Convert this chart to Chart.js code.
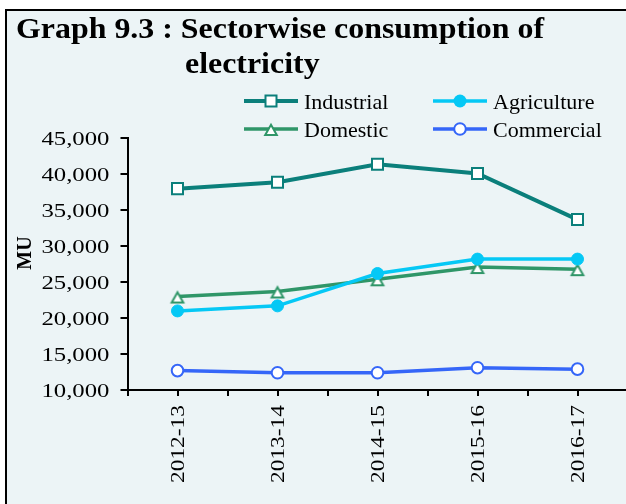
<!DOCTYPE html>
<html><head><meta charset="utf-8">
<script src="https://cdn.jsdelivr.net/npm/chart.js@4"></script>
<style>html,body{margin:0;padding:0;overflow:hidden;background:#fff}#wrap{width:640px;height:504px}</style>
</head><body><div id="wrap"><canvas id="c" width="640" height="504"></canvas></div>
<script>
const categories = ['2012-13', '2013-14', '2014-15', '2015-16', '2016-17'];
const industrial = [38000, 38900, 41400, 40100, 33700];
const agriculture = [21000, 21700, 26200, 28200, 28200];
const domestic = [23000, 23700, 25400, 27100, 26800];
const commercial = [12700, 12400, 12400, 13100, 12900];
const yTickValues = [10000, 15000, 20000, 25000, 30000, 35000, 40000, 45000];
const yTickLabels = ['10,000', '15,000', '20,000', '25,000', '30,000', '35,000', '40,000', '45,000'];
const seriesNames = ['Industrial', 'Agriculture', 'Domestic', 'Commercial'];
const titleLines = ['Graph 9.3 : Sectorwise consumption of', 'electricity'];
const yAxisTitle = 'MU';

const C_IND = '#0B7F7B', C_AGR = '#05C8F5', C_DOM = '#2F9668', C_COM = '#3566F8';
const BG = '#ECF4F6';

function makeTriangle(color) {
  const c = document.createElement('canvas');
  c.width = 18; c.height = 22;
  const g = c.getContext('2d');
  g.beginPath(); g.moveTo(9, 6.8); g.lineTo(14.8, 17); g.lineTo(3.2, 17); g.closePath();
  g.fillStyle = '#fff'; g.fill();
  g.lineWidth = 2; g.strokeStyle = color; g.stroke();
  return c;
}
const triImg = makeTriangle(C_DOM);

function drawMarker(ctx, kind, x, y, color) {
  ctx.save();
  ctx.lineWidth = 2;
  ctx.strokeStyle = color;
  if (kind === 'rect') {
    ctx.fillStyle = '#fff';
    ctx.fillRect(x - 5.5, y - 5.5, 11, 11);
    ctx.strokeRect(x - 5.5, y - 5.5, 11, 11);
  } else if (kind === 'dot') {
    ctx.fillStyle = color;
    ctx.beginPath(); ctx.arc(x, y, 6.5, 0, Math.PI * 2); ctx.fill();
  } else if (kind === 'ring') {
    ctx.fillStyle = '#fff';
    ctx.beginPath(); ctx.arc(x, y, 5.8, 0, Math.PI * 2); ctx.fill(); ctx.stroke();
  } else if (kind === 'tri') {
    ctx.drawImage(triImg, x - 9, y - 11);
  }
  ctx.restore();
}

const decor = {
  id: 'decor',
  beforeDraw(chart) {
    const ctx = chart.ctx, W = chart.width, H = chart.height;
    ctx.save();
    ctx.fillStyle = '#fff'; ctx.fillRect(0, 0, W, H);
    ctx.fillStyle = BG; ctx.fillRect(6, 10, W - 6, H - 10);
    ctx.strokeStyle = '#000'; ctx.lineWidth = 2;
    ctx.beginPath(); ctx.moveTo(6, 9); ctx.lineTo(6, H); ctx.stroke();
    ctx.beginPath(); ctx.moveTo(5, 10); ctx.lineTo(W, 10); ctx.stroke();
    ctx.restore();
  },
  afterDraw(chart) {
    const ctx = chart.ctx;
    const xs = chart.scales.x, ys = chart.scales.y;
    ctx.save();
    ctx.fillStyle = '#000';
    // Title
    ctx.font = 'bold 29px "Liberation Serif"';
    ctx.textAlign = 'left'; ctx.textBaseline = 'alphabetic';
    ctx.save(); ctx.translate(16, 37.5); ctx.scale(1.1, 1); ctx.fillText(titleLines[0], 0, 0); ctx.restore();
    ctx.save(); ctx.translate(185, 72.5); ctx.scale(1.1, 1); ctx.fillText(titleLines[1], 0, 0); ctx.restore();
    // Legend
    const items = [
      {i: 0, x: 244, y: 101, c: C_IND, k: 'rect', w: 4},
      {i: 1, x: 433, y: 101, c: C_AGR, k: 'dot', w: 3.5},
      {i: 2, x: 244, y: 129, c: C_DOM, k: 'tri', w: 3.5},
      {i: 3, x: 433, y: 129, c: C_COM, k: 'ring', w: 3.5}
    ];
    ctx.font = '22px "Liberation Serif"';
    items.forEach(it => {
      ctx.save();
      ctx.strokeStyle = it.c; ctx.lineWidth = it.w;
      ctx.beginPath(); ctx.moveTo(it.x, it.y); ctx.lineTo(it.x + 54, it.y); ctx.stroke();
      ctx.restore();
      drawMarker(ctx, it.k, it.x + 27, it.y, it.c);
      ctx.fillStyle = '#000';
      ctx.fillText(seriesNames[it.i], it.x + 60, it.y + 7.5);
    });
    // Y tick labels
    ctx.font = '19.5px "Liberation Serif"';
    ctx.textAlign = 'right';
    ys.ticks.forEach(t => {
      const idx = yTickValues.indexOf(t.value);
      if (idx < 0) return;
      const y = ys.getPixelForValue(t.value);
      ctx.save(); ctx.translate(109.5, y + 6.5); ctx.scale(1.27, 1);
      ctx.fillText(yTickLabels[idx], 0, 0); ctx.restore();
    });
    // X center ticks + labels
    ctx.strokeStyle = '#000'; ctx.lineWidth = 2;
    ctx.font = '18px "Liberation Serif"';
    categories.forEach((lab, i) => {
      const x = Math.round(xs.getPixelForValue(i));
      ctx.beginPath(); ctx.moveTo(x, xs.top); ctx.lineTo(x, xs.top + 6); ctx.stroke();
      ctx.save(); ctx.translate(x + 6, 405); ctx.rotate(-Math.PI / 2); ctx.scale(1.3, 1);
      ctx.textAlign = 'right'; ctx.fillText(lab, 0, 0); ctx.restore();
    });
    // Y axis title
    ctx.font = 'bold 20px "Liberation Serif"';
    ctx.save(); ctx.translate(31, 253); ctx.rotate(-Math.PI / 2);
    ctx.textAlign = 'center'; ctx.fillText(yAxisTitle, 0, 0); ctx.restore();
    ctx.restore();
  }
};

new Chart(document.getElementById('c'), {
  type: 'line',
  data: {
    labels: categories,
    datasets: [
      {label: seriesNames[0], data: industrial, borderColor: C_IND, borderWidth: 4,
       pointStyle: 'rect', pointRadius: 7.8, pointBorderWidth: 2, pointBackgroundColor: '#fff', pointBorderColor: C_IND},
      {label: seriesNames[1], data: agriculture, borderColor: C_AGR, borderWidth: 3.5,
       pointStyle: 'circle', pointRadius: 6, pointBorderWidth: 1, pointBackgroundColor: C_AGR, pointBorderColor: C_AGR},
      {label: seriesNames[2], data: domestic, borderColor: C_DOM, borderWidth: 3.5,
       pointStyle: triImg, pointRadius: 7, pointBackgroundColor: '#fff', pointBorderColor: C_DOM},
      {label: seriesNames[3], data: commercial, borderColor: C_COM, borderWidth: 3.5,
       pointStyle: 'circle', pointRadius: 5.8, pointBorderWidth: 2, pointBackgroundColor: '#fff', pointBorderColor: C_COM}
    ]
  },
  options: {
    responsive: false,
    animation: false,
    devicePixelRatio: 1,
    layout: {padding: {top: 138.3, right: 12.5, left: 0, bottom: 0}},
    plugins: {legend: {display: false}, title: {display: false}, tooltip: {enabled: false}},
    elements: {line: {tension: 0, borderCapStyle: 'butt'}},
    scales: {
      x: {
        type: 'category', offset: true,
        grid: {offset: true, drawOnChartArea: false, drawTicks: true, tickLength: 6, color: '#000', lineWidth: 2},
        border: {display: true, color: '#000', width: 2},
        ticks: {display: false},
        afterFit: s => { s.height = 114; }
      },
      y: {
        min: 10000, max: 45000,
        grid: {drawOnChartArea: false, drawTicks: true, tickLength: 7, color: '#000', lineWidth: 2},
        border: {display: true, color: '#000', width: 2},
        ticks: {display: false, stepSize: 5000},
        afterFit: s => { s.width = 127.5; }
      }
    }
  },
  plugins: [decor]
});
</script>
</body></html>
